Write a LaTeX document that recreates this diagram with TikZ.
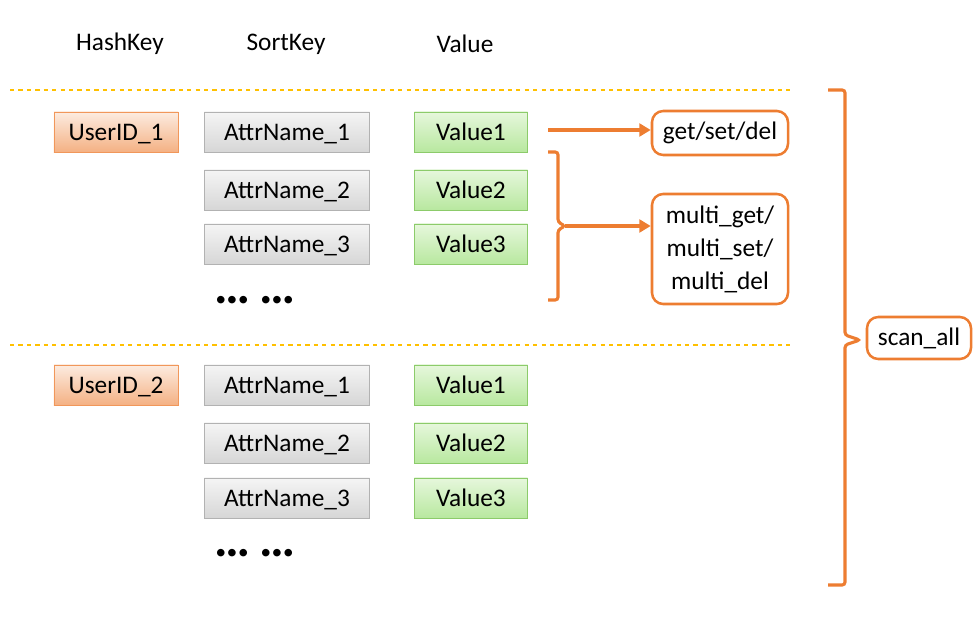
\documentclass[tikz,border=0pt]{standalone}
\usepackage{fontspec}
\setmainfont{Carlito}
\usetikzlibrary{positioning,arrows.meta}

\definecolor{accent}{HTML}{ED7D31}
\definecolor{dashline}{HTML}{FFC000}
\definecolor{valtop}{HTML}{E6F7DC}
\definecolor{valbot}{HTML}{B8E89F}
\definecolor{valline}{HTML}{8CCB6A}

\tikzset{
  cell/.style={draw, minimum height=1cm, inner sep=0pt, text height=12.5pt, text depth=0pt, font=\fontsize{18}{21}\selectfont},
  hashcell/.style={cell, draw=accent!80, top color=accent!15, bottom color=accent!60, minimum width=3.1cm},
  sortcell/.style={cell, draw=black!30, top color=black!4, bottom color=black!16, minimum width=4.125cm},
  valuecell/.style={cell, draw=valline, top color=valtop, bottom color=valbot, minimum width=2.825cm},
  opbox/.style={draw=accent, line width=1.8pt, rounded corners=8pt, align=center, font=\fontsize{18}{23.5}\selectfont},
  header/.style={font=\fontsize{18}{21}\selectfont},
  dots/.style={font=\fontsize{36}{36}\bfseries},
  sep/.style={draw=dashline, dashed, line width=0.8pt},
  brace/.style={draw=accent, line width=2.2pt, rounded corners=2pt},
  link/.style={draw=accent, line width=2.2pt, -{Triangle[length=8pt,width=9pt]}}
}

\begin{document}
\begin{tikzpicture}[x=0.025cm, y=-0.025cm]
  \useasboundingbox (0,0) rectangle (980,623);

  % column headers
  \node[header] (hhash) at (120,44) {HashKey};
  \node[header] (hsort) at (286,44) {SortKey};
  \node[header] (hval) at (465,44) {Value};

  % separators
  \draw[sep] (10,90) -- (790,90);
  \draw[sep] (10,345) -- (790,345);

  % first hash key
  \node[hashcell] (user1) at (116,132) {UserID\_1};
  \node[sortcell] (a11) at (287,132) {AttrName\_1};
  \node[sortcell] (a12) at (287,190) {AttrName\_2};
  \node[sortcell] (a13) at (287,244) {AttrName\_3};
  \node[valuecell] (v11) at (471,132) {Value1};
  \node[valuecell] (v12) at (471,190) {Value2};
  \node[valuecell] (v13) at (471,244) {Value3};
  \node[dots] (d1) at (255,300) {…\,…};

  % second hash key
  \node[hashcell] (user2) at (116,385) {UserID\_2};
  \node[sortcell] (a21) at (287,385) {AttrName\_1};
  \node[sortcell] (a22) at (287,443) {AttrName\_2};
  \node[sortcell] (a23) at (287,498) {AttrName\_3};
  \node[valuecell] (v21) at (471,385) {Value1};
  \node[valuecell] (v22) at (471,443) {Value2};
  \node[valuecell] (v23) at (471,498) {Value3};
  \node[dots] (d2) at (255,553) {…\,…};

  % operations
  \node[opbox, minimum width=3.4cm, minimum height=1.1cm] (single) at (720,133) {get/set/del};
  \node[opbox, minimum width=3.4cm, minimum height=2.75cm] (multi) at (720,249) {multi\_get/\\multi\_set/\\multi\_del};
  \node[opbox, minimum width=2.6cm, minimum height=1.05cm] (scan) at (919,338) {scan\_all};

  \coordinate (s1) at (548,130);
  \draw[link] (s1) -- (single.west |- s1);

  \coordinate (b1) at (565,226);
  \draw[brace] (548,152) -- (558,152) -- (558,222) -- (b1) -- (558,230) -- (558,300) -- (548,300);
  \draw[link] (b1) -- (multi.west |- b1);

  \coordinate (b2) at (860,340);
  \draw[brace] (828,90) -- (845,90) -- (845,335) -- (b2) -- (845,345) -- (845,585) -- (828,585);
\end{tikzpicture}
\end{document}
